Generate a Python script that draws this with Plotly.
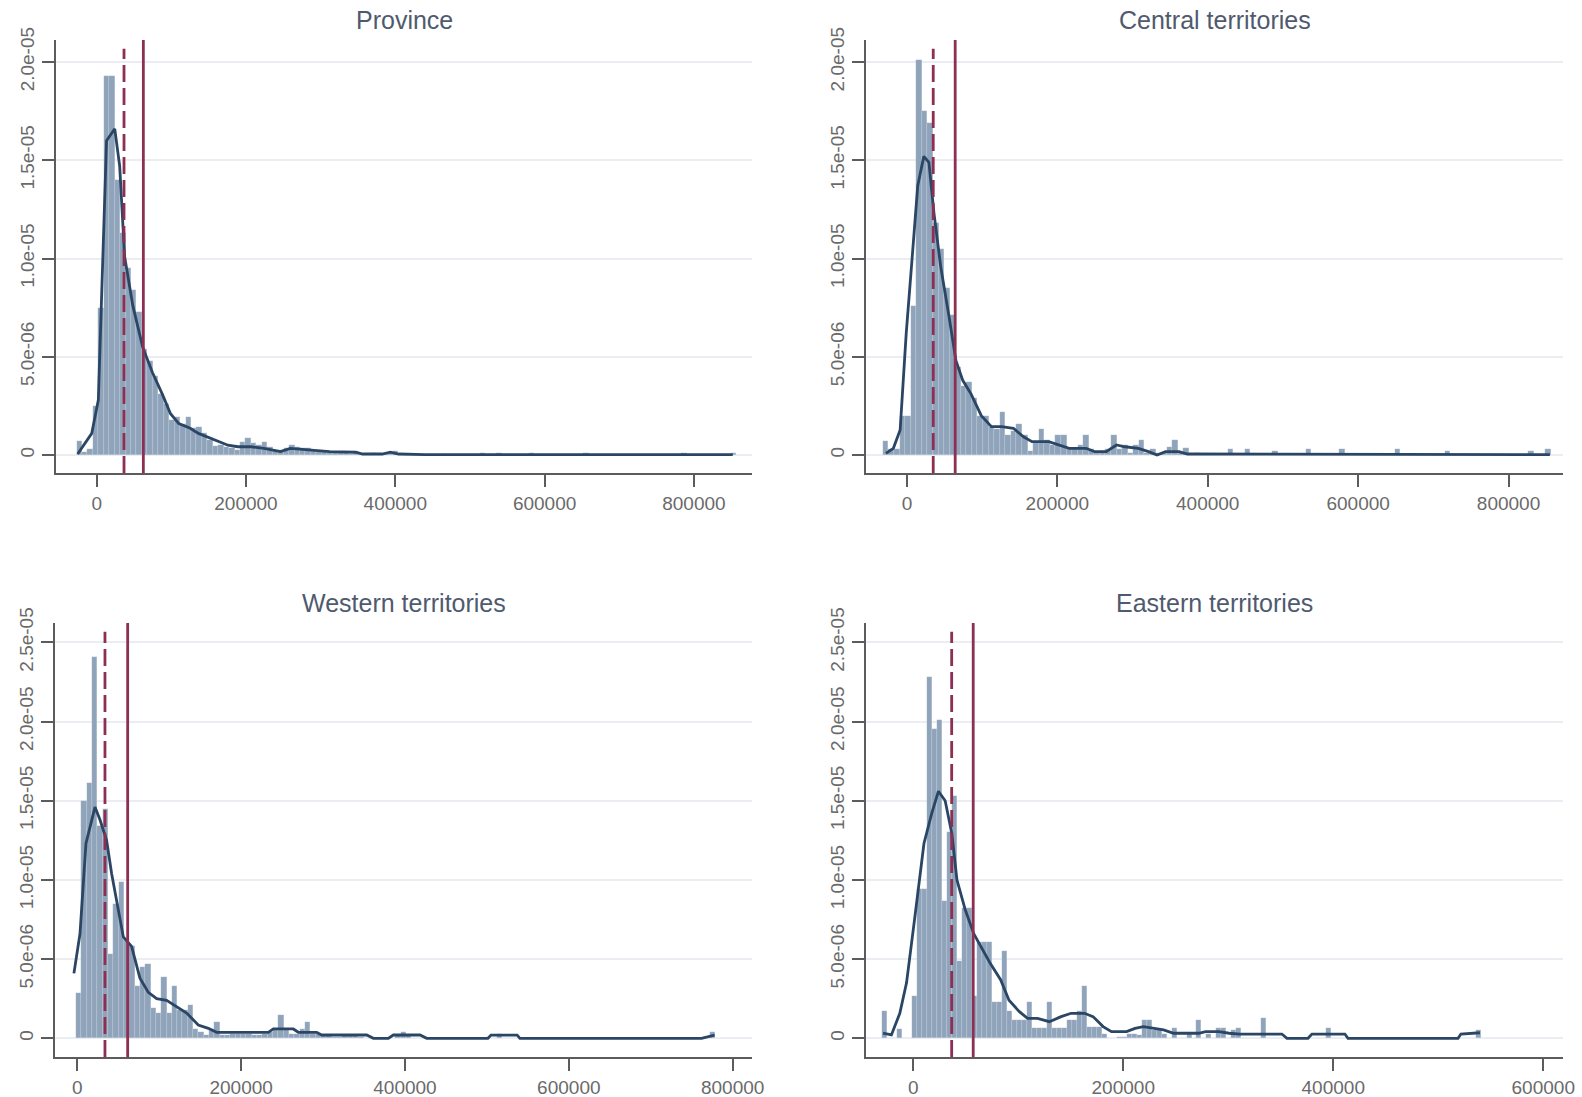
import plotly.graph_objects as go

W, H = 1582, 1097

TITLES = ["Province", "Central territories", "Western territories", "Eastern territories"]

# ---------------- Histogram densities (units of 1e-6) ----------------
PROV_BIN_START = -27000
PROV_BIN_WIDTH = 7300
PROV_DENSITY = [
    0.7, 0.15, 0.3, 2.5, 7.5, 19.3, 19.3, 14.0, 11.3, 9.5,
    8.4, 7.3, 5.4, 4.8, 4.0, 3.1, 2.6, 1.8, 1.95, 1.6,
    1.95, 1.35, 1.45, 1.1, 0.75, 0.45, 0.5, 0.42, 0.35, 0.25,
    0.68, 0.85, 0.6, 0.5, 0.68, 0.42, 0.25, 0.25, 0.35, 0.5,
    0.42, 0.35, 0.35, 0.25, 0.15, 0.15, 0.1, 0.15, 0.1, 0.1,
    0.05, 0.1, 0.05, 0.05, 0.1, 0.05, 0.05, 0.1, 0.2, 0.05,
    0, 0, 0, 0.05, 0, 0, 0, 0.05, 0, 0,
    0, 0, 0, 0, 0.08, 0, 0, 0.08, 0, 0,
    0, 0, 0, 0.08, 0, 0, 0, 0, 0, 0,
    0, 0, 0, 0.08, 0, 0, 0, 0, 0, 0,
    0, 0, 0, 0, 0, 0, 0, 0, 0, 0,
    0, 0.08, 0, 0, 0, 0, 0, 0, 0, 0,
    0.1,
]

CENT_BIN_START = -32000
CENT_BIN_WIDTH = 7400
CENT_DENSITY = [
    0.73, 0.3, 0.3, 2.0, 2.0, 7.6, 20.1, 17.5, 16.9, 11.8,
    10.5, 8.5, 7.1, 4.5, 3.5, 3.7, 2.9, 2.0, 2.0, 1.4,
    1.3, 2.2, 1.0, 1.2, 1.6, 1.0, 0.2, 0.6, 1.3, 0.76,
    0.5, 1.0, 1.0, 0.3, 0.3, 0.5, 1.0, 0.3, 0.1, 0.2,
    0.3, 1.0, 0.3, 0.5, 0.1, 0.5, 0.76, 0.1, 0.3, 0.1,
    0.1, 0.4, 0.76, 0.1, 0.34, 0, 0.1, 0, 0, 0,
    0, 0, 0.3, 0, 0, 0.3, 0, 0, 0, 0,
    0.2, 0, 0, 0, 0, 0, 0.3, 0, 0, 0,
    0, 0, 0.3, 0, 0, 0, 0, 0, 0, 0,
    0, 0, 0.3, 0, 0, 0, 0, 0, 0, 0,
    0, 0.2, 0, 0, 0, 0, 0, 0, 0, 0,
    0, 0, 0, 0, 0, 0, 0.2, 0, 0, 0.3,
    0,
]

WEST_BIN_START = -1600
WEST_BIN_WIDTH = 6500
WEST_DENSITY = [
    2.84, 15.0, 16.1, 24.1, 13.4, 14.5, 5.3, 8.5, 9.9, 6.2,
    5.8, 3.3, 4.5, 4.7, 1.9, 1.6, 3.9, 1.6, 3.3, 1.8,
    1.8, 2.1, 0.6, 0.4, 0.2, 0.6, 1.05, 0.2, 0.2, 0.3,
    0.3, 0.3, 0.3, 0.2, 0.2, 0.3, 0.4, 0.6, 1.5, 0.5,
    0.3, 0.3, 0.6, 1.05, 0.3, 0.3, 0.2, 0.2, 0.1, 0.1,
    0.2, 0.2, 0.2, 0.1, 0, 0, 0, 0, 0, 0,
    0.2, 0.4, 0.2, 0, 0, 0, 0, 0, 0, 0,
    0, 0, 0, 0, 0, 0, 0, 0, 0, 0.3,
    0, 0, 0, 0, 0, 0, 0, 0, 0, 0,
    0, 0, 0, 0, 0, 0, 0, 0, 0, 0,
    0, 0, 0, 0, 0, 0, 0, 0, 0, 0,
    0, 0, 0, 0, 0, 0, 0, 0, 0, 0.4,
    0,
]

EAST_BIN_START = -29500
EAST_BIN_WIDTH = 4750
EAST_DENSITY = [
    1.7, 0, 0, 0.6, 0, 0, 2.7, 9.4, 9.4, 22.8,
    19.5, 20.1, 8.7, 13.0, 15.3, 4.9, 8.2, 8.2, 2.7, 6.1,
    6.1, 6.1, 2.3, 2.3, 5.5, 1.7, 1.16, 1.16, 1.16, 2.3,
    0.63, 0.63, 0.63, 2.3, 0.63, 0.63, 0.63, 1.16, 1.16, 1.7,
    3.3, 0.74, 0.74, 0.74, 0.3, 0, 0, 0.1, 0.1, 0.3,
    0.3, 0.2, 1.16, 1.16, 0.5, 0.5, 0.3, 0, 0.63, 0,
    0, 0.3, 0, 1.16, 0, 0.3, 0, 0.63, 0.63, 0,
    0.5, 0.63, 0, 0, 0, 0, 1.28, 0, 0, 0,
    0, 0, 0, 0, 0, 0, 0, 0, 0, 0.67,
    0, 0, 0, 0, 0, 0, 0, 0, 0, 0,
    0, 0, 0, 0, 0, 0, 0, 0, 0, 0,
    0, 0, 0, 0, 0, 0, 0, 0, 0, 0.52,
    0,
]

# ---------------- Kernel density curves (x, density in 1e-6) ----------------
PROV_KDE_X = [-25500, -6600, 2200, 6600, 13200, 24200, 30800, 37400, 48400, 61500,
              74700, 87900, 98900, 110000, 125300, 136300, 153900, 175800, 189000, 206600,
              224200, 246200, 259400, 277000, 294500, 312100, 347300, 356100, 382400, 393400,
              404400, 439600, 852000]
PROV_KDE_Y = [0.05, 1.1, 2.8, 7.9, 16.0, 16.6, 14.7, 10.1, 7.6, 5.5,
              4.2, 3.1, 2.1, 1.6, 1.36, 1.1, 0.85, 0.5, 0.42, 0.42,
              0.34, 0.17, 0.34, 0.29, 0.25, 0.17, 0.14, 0.05, 0.05, 0.14,
              0.05, 0.02, 0.02]

CENT_KDE_X = [-27900, -18000, -9000, -900, 6700, 14400, 22500, 29200, 36000, 44900,
              56200, 65200, 74200, 85400, 98900, 112400, 125800, 141600, 155000, 166300,
              188700, 202200, 215700, 238200, 249400, 265100, 278600, 289900, 307800, 321300,
              332600, 343800, 361800, 373000, 855000]
CENT_KDE_Y = [0.08, 0.34, 1.27, 6.2, 9.9, 13.7, 15.2, 14.9, 12.3, 9.6,
              7.0, 4.8, 3.8, 3.1, 2.0, 1.44, 1.44, 1.36, 0.93, 0.68,
              0.68, 0.51, 0.34, 0.34, 0.17, 0.17, 0.51, 0.42, 0.34, 0.17,
              0.0, 0.17, 0.17, 0.05, 0.02]

WEST_KDE_X = [-4100, 3300, 10600, 21600, 27700, 35800, 41900, 48000, 56200, 66300,
              76500, 86700, 96900, 109000, 121300, 133500, 147700, 160000, 170000, 190500,
              214900, 233200, 239300, 263700, 269800, 292200, 298300, 353300, 361400, 379700,
              385800, 418400, 426500, 501300, 505000, 537000, 540300, 762000, 778000]
WEST_KDE_Y = [4.1, 6.6, 12.3, 14.6, 13.8, 12.5, 10.4, 8.7, 6.4, 5.8,
              3.8, 2.9, 2.5, 2.4, 2.0, 1.6, 0.84, 0.63, 0.38, 0.38,
              0.38, 0.38, 0.59, 0.59, 0.38, 0.38, 0.21, 0.21, 0.0, 0.0,
              0.21, 0.21, 0.0, 0.0, 0.2, 0.2, 0.0, 0.0, 0.2]

EAST_KDE_X = [-28800, -20800, -12800, -6400, 1600, 10200, 17600, 24000, 30400, 36800,
              41600, 49600, 57600, 65600, 73600, 83200, 91200, 100800, 108800, 118400,
              129600, 140800, 150400, 163200, 171200, 180800, 188800, 203200, 211200, 219200,
              230400, 238400, 248000, 272000, 278400, 291200, 300800, 311100, 351100, 355900,
              375900, 379700, 411100, 414000, 518800, 521600, 539700]
EAST_KDE_Y = [0.32, 0.21, 1.58, 3.5, 7.7, 12.3, 14.2, 15.6, 15.0, 12.9,
              10.0, 8.1, 6.6, 5.6, 4.7, 3.7, 2.4, 1.7, 1.26, 1.26,
              1.05, 1.37, 1.58, 1.58, 1.37, 0.74, 0.42, 0.42, 0.63, 0.74,
              0.63, 0.53, 0.32, 0.32, 0.42, 0.42, 0.32, 0.27, 0.27, 0.0,
              0.0, 0.27, 0.27, 0.0, 0.0, 0.27, 0.35]

# ---------------- Median (dashed) and mean (solid) ----------------
MEDIANS = [36600, 35000, 33800, 36600]
MEANS = [62500, 64200, 61500, 57100]

# ---------------- Tick values / labels ----------------
X_TICKS_A = [0, 200000, 400000, 600000, 800000]
X_TICKS_B = [0, 200000, 400000, 600000]
Y_TICKS_TOP = [0, 5, 10, 15, 20]
Y_TICKS_BOT = [0, 5, 10, 15, 20, 25]
Y_TICKTEXT = {0: "0", 5: "5.0e-06", 10: "1.0e-05", 15: "1.5e-05", 20: "2.0e-05", 25: "2.5e-05"}

# ---------------- Layout geometry ----------------
X_DOMAINS = [[56 / W, 752 / W], [866 / W, 1563 / W], [55 / W, 752 / W], [866 / W, 1563 / W]]
Y_DOMAINS = [[1 - 473 / H, 1 - 40 / H], [1 - 473 / H, 1 - 40 / H],
             [1 - 1057 / H, 1 - 623 / H], [1 - 1057 / H, 1 - 623 / H]]
X_RANGES = [[-54500, 877800], [-54400, 872400], [-27200, 823600], [-45000, 618800]]
Y_RANGES = [[-0.916, 21.12], [-0.916, 21.12], [-1.18, 26.22], [-1.18, 26.22]]
X_TICKS = [X_TICKS_A, X_TICKS_A, X_TICKS_A, X_TICKS_B]
Y_TICKS = [Y_TICKS_TOP, Y_TICKS_TOP, Y_TICKS_BOT, Y_TICKS_BOT]

BAR_COLOR = "#8fa3ba"
KDE_COLOR = "#2a4664"
LINE_COLOR = "#8c2f52"
AXIS_COLOR = "#5c5c5c"
GRID_COLOR = "#eaeef3"
TICK_FONT = dict(family="Liberation Sans, Arial, sans-serif", size=19, color="#6a6a6a")
TITLE_FONT = dict(family="Liberation Sans, Arial, sans-serif", size=25, color="#4f5a6e")

panels = [
    (PROV_BIN_START, PROV_BIN_WIDTH, PROV_DENSITY, PROV_KDE_X, PROV_KDE_Y),
    (CENT_BIN_START, CENT_BIN_WIDTH, CENT_DENSITY, CENT_KDE_X, CENT_KDE_Y),
    (WEST_BIN_START, WEST_BIN_WIDTH, WEST_DENSITY, WEST_KDE_X, WEST_KDE_Y),
    (EAST_BIN_START, EAST_BIN_WIDTH, EAST_DENSITY, EAST_KDE_X, EAST_KDE_Y),
]

fig = go.Figure()
layout = dict(
    width=W, height=H,
    margin=dict(l=0, r=0, t=0, b=0, autoexpand=False),
    paper_bgcolor="white", plot_bgcolor="white",
    showlegend=False, barmode="overlay", bargap=0,
    font=dict(family="Liberation Sans, Arial, sans-serif"),
    shapes=[], annotations=[],
)

for i, (start, width, dens, kx, ky) in enumerate(panels):
    n = i + 1
    xa = "x" if n == 1 else f"x{n}"
    ya = "y" if n == 1 else f"y{n}"
    centers = [start + width * (k + 0.5) for k in range(len(dens))]
    fig.add_trace(go.Bar(
        x=centers, y=dens, width=width, xaxis=xa, yaxis=ya,
        marker=dict(color=BAR_COLOR, line=dict(color="rgba(255,255,255,0.3)", width=0.4)),
        hoverinfo="skip",
    ))
    fig.add_trace(go.Scatter(
        x=kx, y=ky, mode="lines", xaxis=xa, yaxis=ya,
        line=dict(color=KDE_COLOR, width=2.8), hoverinfo="skip",
    ))
    xkey = "xaxis" if n == 1 else f"xaxis{n}"
    ykey = "yaxis" if n == 1 else f"yaxis{n}"
    layout[xkey] = dict(
        domain=X_DOMAINS[i], range=X_RANGES[i], anchor=ya, automargin=False,
        showgrid=False, zeroline=False, showline=True, linecolor=AXIS_COLOR, linewidth=2,
        ticks="outside", ticklen=12, tickwidth=2, tickcolor=AXIS_COLOR,
        tickvals=X_TICKS[i], ticktext=[str(v) for v in X_TICKS[i]], tickfont=TICK_FONT,
    )
    layout[ykey] = dict(
        domain=Y_DOMAINS[i], range=Y_RANGES[i], anchor=xa, automargin=False,
        showgrid=True, gridcolor=GRID_COLOR, gridwidth=2, zeroline=False,
        showline=True, linecolor=AXIS_COLOR, linewidth=2,
        ticks="outside", ticklen=12, tickwidth=2, tickcolor=AXIS_COLOR,
        tickvals=Y_TICKS[i], ticktext=[Y_TICKTEXT[v] for v in Y_TICKS[i]],
        tickangle=-90, tickfont=TICK_FONT,
    )
    layout["shapes"].append(dict(
        type="line", xref=xa, yref=f"{ya} domain", x0=MEDIANS[i], x1=MEDIANS[i], y0=0, y1=0.98,
        line=dict(color=LINE_COLOR, width=2.8, dash="17px,6px"),
    ))
    layout["shapes"].append(dict(
        type="line", xref=xa, yref=f"{ya} domain", x0=MEANS[i], x1=MEANS[i], y0=0, y1=1,
        line=dict(color=LINE_COLOR, width=2.8),
    ))
    layout["annotations"].append(dict(
        text=TITLES[i], xref=f"{xa} domain", yref="paper",
        x=0.5, y=Y_DOMAINS[i][1] + 20 / H, xanchor="center", yanchor="middle",
        showarrow=False, font=TITLE_FONT,
    ))

fig.update_layout(**layout)
fig.write_html(
    "out.html",
    config={"displayModeBar": False},
    post_script="document.body.style.margin='0px'; document.body.style.overflow='hidden';",
)
